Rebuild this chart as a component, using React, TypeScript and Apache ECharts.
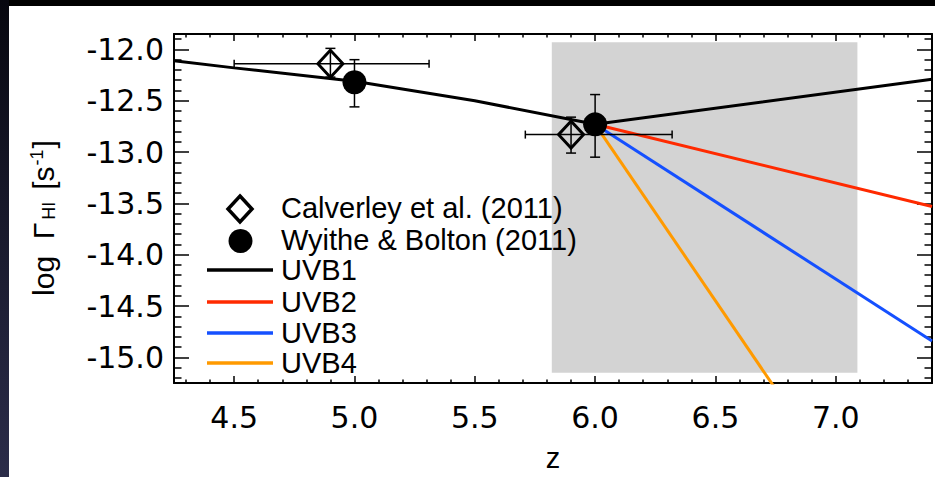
import { useEffect, useRef } from "react";
import * as echarts from "echarts";

// Axis extents
const zRange = [4.25, 7.4];
const gammaRange = [-15.25, -11.85];

// Major tick values (labelled)
const zMajorTicks = [4.5, 5.0, 5.5, 6.0, 6.5, 7.0];
const gammaMajorTicks = [-15.0, -14.5, -14.0, -13.5, -13.0, -12.5, -12.0];

// Shaded redshift window
const shadedZ = [5.82, 7.09];
const shadedGamma = [-15.15, -11.93];

// UVB model curves: [z, log Gamma_HI]
const uvb1 = [
  [4.25, -12.11],
  [4.5, -12.18],
  [5.0, -12.31],
  [5.5, -12.5],
  [6.0, -12.73],
  [7.4, -12.29],
];
const uvb2 = [
  [6.0, -12.73],
  [7.4, -13.53],
];
const uvb3 = [
  [6.0, -12.73],
  [7.4, -14.84],
];
const uvb4 = [
  [6.0, -12.73],
  [6.8, -15.48],
];

// Calverley et al. (2011)
const calverleyZ = [4.9, 5.9];
const calverleyGamma = [-12.14, -12.83];
const calverleyZErr = [
  [4.5, 5.31],
  [5.71, 6.32],
];
const calverleyGammaErr = [
  [-12.27, -11.99],
  [-13.01, -12.66],
];

// Wyithe & Bolton (2011)
const wyitheZ = [5.0, 6.0];
const wyitheGamma = [-12.32, -12.73];
const wyitheGammaErr = [
  [-12.56, -12.1],
  [-13.05, -12.44],
];

const legendLabels = [
  "Calverley et al. (2011)",
  "Wyithe & Bolton (2011)",
  "UVB1",
  "UVB2",
  "UVB3",
  "UVB4",
];
const uvbColors = ["#000000", "#ff2a00", "#1550ff", "#ff9a00"];

const yTitle = "log  Γ{sub|HI}[s{sup|-1}]";
const xTitle = "z";

const FONT = '"Liberation Sans", Arial, Helvetica, sans-serif';
const TICK_FONT = '"DejaVu Sans", "Liberation Sans", sans-serif';
const FS = 29;
const TICK_FS = 30;

// minor ticks every 0.1 between the labelled ones
function minorTicks(range: number[], majors: number[]) {
  const out: number[] = [];
  const k0 = Math.ceil(range[0] * 10 - 1e-9);
  const k1 = Math.floor(range[1] * 10 + 1e-9);
  for (let k = k0; k <= k1; k++) {
    const v = Math.round(k) / 10;
    if (!majors.some((m) => Math.abs(m - v) < 1e-9)) out.push(v);
  }
  return out;
}

type ErrRow = { z: number; g: number; zErr: number[] | null; gErr: number[] | null };

export default function App() {
  const ref = useRef<HTMLDivElement>(null);

  useEffect(() => {
    if (!ref.current) return;
    const chart = echarts.init(ref.current, null, { renderer: "svg", width: 926, height: 471 });

    const zMinor = minorTicks(zRange, zMajorTicks);
    const gMinor = minorTicks(gammaRange, gammaMajorTicks);

    const tickLine = { color: "#000", width: 1.5 };

    const baseAxis = (min: number, max: number) => ({
      type: "value" as const,
      min,
      max,
      scale: true,
      splitLine: { show: false },
      axisLine: { show: false, onZero: false },
      axisLabel: { show: false },
      axisTick: { show: false },
    });

    const xAxes = [
      {
        ...baseAxis(zRange[0], zRange[1]),
        position: "bottom",
        axisLine: { show: true, onZero: false, lineStyle: { color: "#000", width: 2 } },
        axisTick: { show: true, inside: true, length: 7, customValues: zMajorTicks, lineStyle: tickLine },
        axisLabel: {
          show: true,
          customValues: zMajorTicks,
          formatter: (v: number) => v.toFixed(1),
          fontSize: TICK_FS,
          fontFamily: TICK_FONT,
          color: "#000",
          margin: 19,
        },
        name: xTitle,
        nameLocation: "middle",
        nameGap: 60,
        nameTextStyle: { fontSize: FS, fontFamily: FONT, color: "#000" },
      },
      {
        ...baseAxis(zRange[0], zRange[1]),
        position: "bottom",
        axisTick: { show: true, inside: true, length: 3.5, customValues: zMinor, lineStyle: tickLine },
      },
      {
        ...baseAxis(zRange[0], zRange[1]),
        position: "top",
        axisLine: { show: true, onZero: false, lineStyle: { color: "#000", width: 2 } },
        axisTick: { show: true, inside: true, length: 7, customValues: zMajorTicks, lineStyle: tickLine },
      },
      {
        ...baseAxis(zRange[0], zRange[1]),
        position: "top",
        axisTick: { show: true, inside: true, length: 3.5, customValues: zMinor, lineStyle: tickLine },
      },
    ];

    const yAxes = [
      {
        ...baseAxis(gammaRange[0], gammaRange[1]),
        position: "left",
        axisLine: { show: true, onZero: false, lineStyle: { color: "#000", width: 2 } },
        axisTick: { show: true, inside: true, length: 15, customValues: gammaMajorTicks, lineStyle: tickLine },
        axisLabel: {
          show: true,
          customValues: gammaMajorTicks,
          formatter: (v: number) => v.toFixed(1),
          fontSize: TICK_FS,
          fontFamily: TICK_FONT,
          color: "#000",
          margin: 10,
        },
      },
      {
        ...baseAxis(gammaRange[0], gammaRange[1]),
        position: "left",
        axisTick: { show: true, inside: true, length: 7.5, customValues: gMinor, lineStyle: tickLine },
      },
      {
        ...baseAxis(gammaRange[0], gammaRange[1]),
        position: "right",
        axisLine: { show: true, onZero: false, lineStyle: { color: "#000", width: 2 } },
        axisTick: { show: true, inside: true, length: 15, customValues: gammaMajorTicks, lineStyle: tickLine },
      },
      {
        ...baseAxis(gammaRange[0], gammaRange[1]),
        position: "right",
        axisTick: { show: true, inside: true, length: 7.5, customValues: gMinor, lineStyle: tickLine },
      },
    ];

    const errRows: ErrRow[] = [
      ...calverleyZ.map((z, i) => ({
        z,
        g: calverleyGamma[i],
        zErr: calverleyZErr[i],
        gErr: calverleyGammaErr[i],
      })),
      ...wyitheZ.map((z, i) => ({ z, g: wyitheGamma[i], zErr: null, gErr: wyitheGammaErr[i] })),
    ];

    const uvbSeries = [uvb1, uvb2, uvb3, uvb4].map((d, i) => ({
      type: "line",
      name: legendLabels[i + 2],
      data: d,
      symbol: "none",
      showSymbol: false,
      clip: true,
      lineStyle: { color: uvbColors[i], width: 3 },
      z: 3,
    }));

    // legend and y title, drawn by hand (chart-div coordinates)
    const legendX = 272;
    const legendRowsY = [202, 234, 264, 296, 327, 357];
    const legendIconX = 231;
    const graphics: any[] = [
      {
        type: "text",
        z: 100,
        x: 34,
        y: 212,
        rotation: Math.PI / 2,
        style: {
          text: yTitle,
          fontSize: 30,
          fontFamily: FONT,
          fill: "#000",
          align: "center",
          textAlign: "center",
          verticalAlign: "middle",
          textVerticalAlign: "middle",
          rich: {
            sub: { fontSize: 18, fontFamily: FONT, fill: "#000", verticalAlign: "bottom", padding: [0, 12, 0, 3] },
            sup: { fontSize: 18, fontFamily: FONT, fill: "#000", verticalAlign: "top", padding: [0, 1, 0, 1] },
          },
        },
      },
      {
        type: "polygon",
        z: 100,
        shape: {
          points: [
            [legendIconX, legendRowsY[0] + 1 - 13],
            [legendIconX + 12, legendRowsY[0] + 1],
            [legendIconX, legendRowsY[0] + 1 + 13],
            [legendIconX - 12, legendRowsY[0] + 1],
          ],
        },
        style: { fill: "none", stroke: "#000", lineWidth: 3.5 },
      },
      {
        type: "circle",
        z: 100,
        shape: { cx: legendIconX + 0.5, cy: legendRowsY[1] + 1, r: 12 },
        style: { fill: "#000" },
      },
      ...uvbColors.map((c, i) => ({
        type: "line",
        z: 100,
        shape: { x1: 198, y1: legendRowsY[i + 2], x2: 264, y2: legendRowsY[i + 2] },
        style: { stroke: c, lineWidth: 3.5 },
      })),
      ...legendLabels.map((t, i) => ({
        type: "text",
        z: 100,
        x: legendX,
        y: legendRowsY[i],
        style: {
          text: t,
          fontSize: FS,
          fontFamily: FONT,
          fill: "#000",
          align: "left",
          textAlign: "left",
          verticalAlign: "middle",
          textVerticalAlign: "middle",
        },
      })),
    ];

    chart.setOption({
      animation: false,
      backgroundColor: "#fff",
      grid: { left: 165, top: 28, right: 3, bottom: 84, containLabel: false },
      xAxis: xAxes,
      yAxis: yAxes,
      graphic: { elements: graphics },
      series: [
        {
          type: "custom",
          name: "window",
          silent: true,
          z: 1,
          data: [[shadedZ[0], shadedZ[1], shadedGamma[0], shadedGamma[1]]],
          renderItem: (_p: any, api: any) => {
            const a = api.coord([api.value(0), api.value(3)]);
            const b = api.coord([api.value(1), api.value(2)]);
            return {
              type: "rect",
              shape: { x: a[0], y: a[1], width: b[0] - a[0], height: b[1] - a[1] },
              style: { fill: "#d3d3d3" },
            };
          },
        },
        ...uvbSeries,
        {
          type: "scatter",
          name: legendLabels[1],
          data: wyitheZ.map((z, i) => [z, wyitheGamma[i]]),
          symbol: "circle",
          symbolSize: 24,
          itemStyle: { color: "#000", opacity: 1 },
          z: 4,
        },
        {
          type: "scatter",
          name: legendLabels[0],
          data: calverleyZ.map((z, i) => [z, calverleyGamma[i]]),
          symbol: "diamond",
          symbolSize: [25, 27],
          itemStyle: { color: "rgba(0,0,0,0)", borderColor: "#000", borderWidth: 3, opacity: 1 },
          z: 4,
        },
        {
          type: "custom",
          name: "errors",
          silent: true,
          z: 5,
          data: errRows.map((r) => [r.z, r.g]),
          renderItem: (params: any, api: any) => {
            const r = errRows[params.dataIndex];
            const children: any[] = [];
            const st = { stroke: "#000", lineWidth: 1.5 };
            if (r.zErr) {
              const a = api.coord([r.zErr[0], r.g]);
              const b = api.coord([r.zErr[1], r.g]);
              children.push({ type: "line", shape: { x1: a[0], y1: a[1], x2: b[0], y2: b[1] }, style: st });
              children.push({ type: "line", shape: { x1: a[0], y1: a[1] - 4, x2: a[0], y2: a[1] + 4 }, style: st });
              children.push({ type: "line", shape: { x1: b[0], y1: b[1] - 4, x2: b[0], y2: b[1] + 4 }, style: st });
            }
            if (r.gErr) {
              const a = api.coord([r.z, r.gErr[0]]);
              const b = api.coord([r.z, r.gErr[1]]);
              children.push({ type: "line", shape: { x1: a[0], y1: a[1], x2: b[0], y2: b[1] }, style: st });
              children.push({ type: "line", shape: { x1: a[0] - 5, y1: a[1], x2: a[0] + 5, y2: a[1] }, style: st });
              children.push({ type: "line", shape: { x1: b[0] - 5, y1: b[1], x2: b[0] + 5, y2: b[1] }, style: st });
            }
            return { type: "group", children };
          },
        },
      ],
    });

    return () => chart.dispose();
  }, []);

  return (
    <div
      style={{
        position: "fixed",
        left: 0,
        top: 0,
        width: 935,
        height: 477,
        background: "#fff",
        overflow: "hidden",
      }}
    >
      <div style={{ position: "absolute", left: 0, top: 0, width: 935, height: 6, background: "#000" }} />
      <div
        style={{
          position: "absolute",
          left: 0,
          top: 0,
          width: 9,
          height: 477,
          background: "linear-gradient(to bottom, #07070f 0%, #161728 40%, #2b2c49 100%)",
        }}
      />
      <div
        ref={ref}
        style={{ position: "absolute", left: 9, top: 6, width: 926, height: 471, background: "#fff" }}
      />
    </div>
  );
}
